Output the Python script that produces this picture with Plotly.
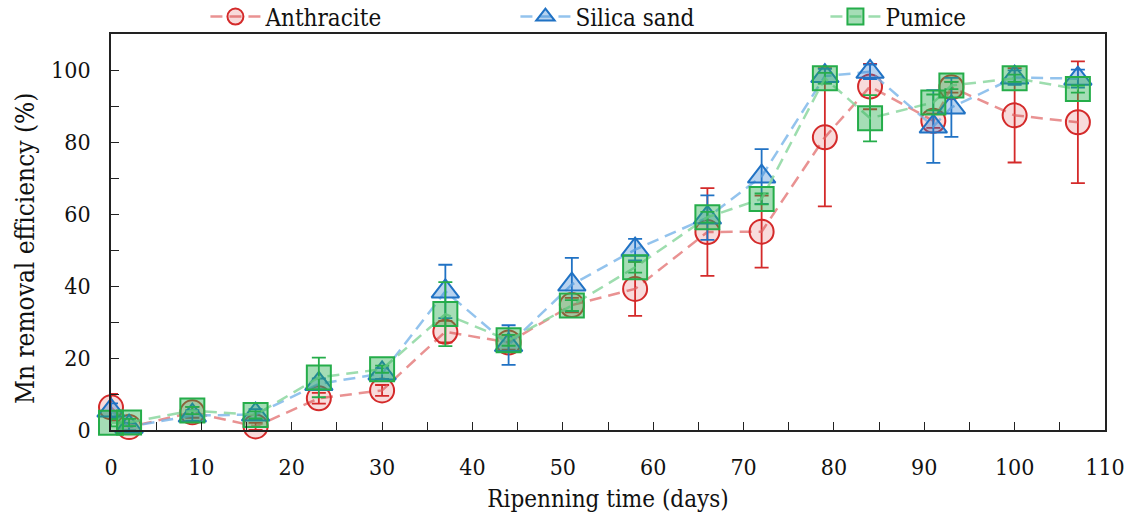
import plotly.graph_objects as go

# Ripening time (days) and Mn removal efficiency (%) per filter medium
days = [0, 2, 9, 16, 23, 30, 37, 44, 51, 58, 66, 72, 79, 84, 91, 93, 100, 107]

anthracite = [6.3, 0.8, 4.9, 1.0, 8.8, 11.0, 27.3, 24.3, 34.7, 39.2, 55.0, 55.1,
              81.3, 95.4, 85.9, 95.2, 87.4, 85.5]
anthracite_err = [3.7, 1.0, 1.5, 1.0, 1.5, 1.5, 3.0, 2.0, 2.0, 7.5, 12.2, 10.0,
                  19.2, 6.3, 2.0, 1.5, 13.1, 16.9]

silica_sand = [5.4, 0.9, 4.0, 4.3, 12.8, 15.7, 38.5, 23.6, 40.4, 50.1, 59.0, 70.4,
               98.3, 99.5, 84.3, 89.6, 97.9, 97.6]
silica_sand_err = [2.0, 1.0, 1.5, 1.5, 1.5, 1.5, 7.4, 5.5, 7.4, 3.0, 6.2, 7.6,
                   2.0, 2.0, 10.1, 8.2, 2.0, 2.5]

pumice = [2.0, 2.1, 5.4, 4.2, 14.6, 16.9, 32.2, 24.9, 34.6, 45.2, 59.1, 64.2,
          97.7, 86.6, 91.0, 95.7, 97.7, 94.7]
pumice_err = [1.0, 1.0, 1.0, 1.0, 5.5, 1.0, 8.9, 1.5, 1.5, 1.5, 1.5, 1.5,
              1.5, 6.4, 2.2, 1.0, 1.0, 1.0]

x_ticks = [0, 10, 20, 30, 40, 50, 60, 70, 80, 90, 100, 110]
y_ticks = [0, 20, 40, 60, 80, 100]

FONT = "DejaVu Serif Condensed, DejaVu Serif, serif"

series = [
    ("Anthracite", anthracite, anthracite_err, "circle",
     "#d42a2a", "rgba(214,42,42,0.17)", "rgba(226,110,110,0.75)"),
    ("Silica sand", silica_sand, silica_sand_err, "triangle-up",
     "#2072c4", "rgba(40,120,205,0.33)", "rgba(120,180,232,0.8)"),
    ("Pumice", pumice, pumice_err, "square",
     "#25ad4a", "rgba(40,175,80,0.42)", "rgba(140,215,160,0.85)"),
]

fig = go.Figure()
for name, vals, errs, symbol, edge, fill, line in series:
    fig.add_trace(go.Scatter(
        x=days, y=vals, name=name, mode="lines+markers",
        line=dict(color=line, width=2.5, dash="12px,7px"),
        marker=dict(symbol=symbol, size=24, color=fill,
                    line=dict(color=edge, width=2)),
        error_y=dict(type="data", array=errs, visible=True,
                     color=edge, thickness=1.8, width=7),
        cliponaxis=False,
    ))

axis_common = dict(
    showline=True, linecolor="#222", linewidth=1.6, mirror=True,
    ticks="inside", ticklen=8, tickwidth=1.4, tickcolor="#222",
    showgrid=False, zeroline=False,
    tickfont=dict(family=FONT, size=23, color="#111"),
)

fig.update_xaxes(
    range=[0, 110], tickvals=x_ticks, ticklabelstandoff=16,
    minor=dict(dtick=5, tick0=0, ticks="inside", ticklen=8, tickwidth=1.4, tickcolor="#222"),
    title=dict(text="Ripenning time (days)", font=dict(family=FONT, size=24, color="#111"),
               standoff=11),
    **axis_common,
)
fig.update_yaxes(
    range=[0, 110], tickvals=y_ticks, ticklabelstandoff=14,
    minor=dict(dtick=10, tick0=0, ticks="inside", ticklen=8, tickwidth=1.4, tickcolor="#222"),
    **axis_common,
)

# y-axis title placed as a rotated annotation in paper coordinates
fig.add_annotation(
    text="Mn removal efficiency (%)", textangle=-90,
    xref="paper", yref="paper", x=-0.0865, y=0.457,
    xanchor="center", yanchor="middle", showarrow=False,
    font=dict(family=FONT, size=26, color="#111"),
)

fig.update_layout(
    width=1137, height=516,
    margin=dict(l=111, r=32, t=34, b=86, autoexpand=False),
    paper_bgcolor="white", plot_bgcolor="white",
    font=dict(family=FONT, color="#111"),
    legend=dict(
        orientation="h", x=0.095, xanchor="left", y=1.043, yanchor="middle",
        font=dict(family=FONT, size=24, color="#111"),
        entrywidth=245, itemwidth=50, bgcolor="rgba(0,0,0,0)",
    ),
)

fig.write_html("out.html")
